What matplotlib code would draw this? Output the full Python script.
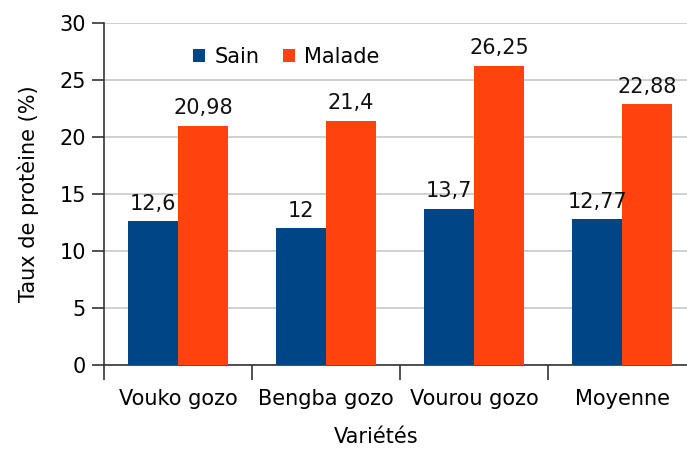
import matplotlib
matplotlib.use("Agg")
import matplotlib.pyplot as plt
import numpy as np

categories = ["Vouko gozo", "Bengba gozo", "Vourou gozo", "Moyenne"]
sain = [12.6, 12.0, 13.7, 12.77]
malade = [20.98, 21.4, 26.25, 22.88]
sain_lbl = ["12,6", "12", "13,7", "12,77"]
malade_lbl = ["20,98", "21,4", "26,25", "22,88"]

c_sain = "#004586"
c_mal = "#ff420e"
fs = 15

plt.rcParams["font.family"] = "DejaVu Sans"
fig = plt.figure(figsize=(6.87, 4.5), dpi=100)
W, H = 687, 450
ax = fig.add_axes([104 / W, 1 - 365 / H, (696 - 104) / W, (365 - 23) / H])

x = np.arange(len(categories))
bw = 50 / 148
b1 = ax.bar(x - bw / 2, sain, bw, color=c_sain, label="Sain", zorder=3)
b2 = ax.bar(x + bw / 2, malade, bw, color=c_mal, label="Malade", zorder=3)

for rect, t in zip(list(b1) + list(b2), sain_lbl + malade_lbl):
    ax.annotate(t, (rect.get_x() + rect.get_width() / 2, rect.get_height()),
                xytext=(0, 5.5), textcoords="offset points", ha="center", va="bottom",
                fontsize=fs, color="#111111")

ax.set_xlim(-0.5, len(categories) - 0.5)
ax.set_ylim(0, 30)
ax.set_yticks(range(0, 31, 5))
ax.yaxis.grid(True, color="#c8c8c8", lw=1.2, zorder=0)
ax.set_axisbelow(True)

ax.set_xticks(x)
ax.set_xticklabels(categories, fontsize=fs)
ax.set_xticks(np.arange(-0.5, len(categories), 1), minor=True)
ax.tick_params(axis="x", which="major", length=0, pad=17)
ax.tick_params(axis="x", which="minor", length=11, width=1.2, color="#333333")
ax.tick_params(axis="y", length=9, width=1.2, color="#333333", labelsize=fs, pad=4)

for s in ["top", "right"]:
    ax.spines[s].set_visible(False)
for s in ["left", "bottom"]:
    ax.spines[s].set_color("#333333")
    ax.spines[s].set_linewidth(1.2)

ax.set_ylabel("Taux de protèine (%)", fontsize=fs, labelpad=15)
ax.set_xlabel("Variétés", fontsize=fs, labelpad=13)
ax.xaxis.label.set_x(0.46)  # centred on visible part of plot

ax.legend(loc="center", bbox_to_anchor=(0.308, 0.90), ncol=2, frameon=False,
          fontsize=fs, handlelength=0.6, handleheight=0.6, handletextpad=0.45,
          columnspacing=1.1)

fig.savefig("out.png", dpi=100)
